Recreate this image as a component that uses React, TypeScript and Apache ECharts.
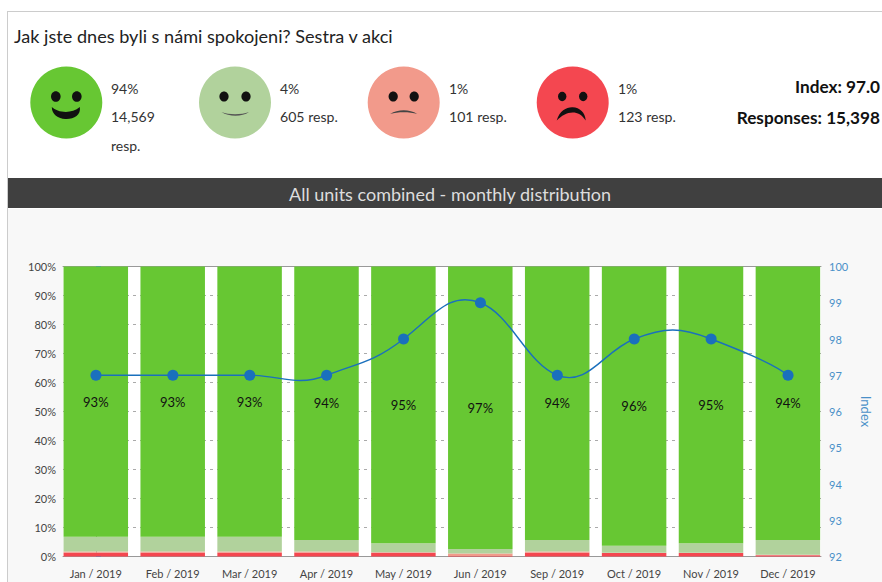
import React, { useEffect, useRef } from "react";
import * as echarts from "echarts";

const categories = ["Jan / 2019", "Feb / 2019", "Mar / 2019", "Apr / 2019", "May / 2019", "Jun / 2019", "Sep / 2019", "Oct / 2019", "Nov / 2019", "Dec / 2019"];
const veryBad = [1.3, 1.3, 1.3, 1.3, 1.3, 0.2, 1.3, 1.2, 1.2, 0.4];
const bad = [0.4, 0.4, 0.4, 0.4, 0.2, 0.8, 0.4, 0.1, 0.1, 0.2];
const good = [5.1, 5.1, 5.1, 4.0, 3.1, 1.6, 4.0, 2.4, 3.3, 5.1];
const veryGood = [93.2, 93.2, 93.2, 94.3, 95.4, 97.4, 94.3, 96.3, 95.4, 94.3];
const indexValues = [97, 97, 97, 97, 98, 99, 97, 98, 98, 97];

const FONT = "Lato";
const GREEN = "#67c733";
const LIGHT = "#b1d29c";
const PINK = "#f29a8b";
const RED = "#f44750";
const BLUE = "#1a70bd";
const AXIS_BLUE = "#4a90c8";
const TENSION_X = 0.2;
const TENSION_Y = 0.33;
const BAR_W = 64.5;

echarts.graphic.registerShape("mouthHappy", echarts.graphic.extendPath("M-14.5 4.5 C-9 10 5 12 13.5 4.5 C15 13 7 17 -1 16.5 C-8 16 -14.5 12 -14.5 4.5 Z", {}));
echarts.graphic.registerShape("mouthSmile", echarts.graphic.extendPath("M-13.5 9.5 C-6 12.5 6 12.5 14 9.5 C7 14.5 -6 14.5 -13.5 9.5 Z", {}));
echarts.graphic.registerShape("mouthFrown", echarts.graphic.extendPath("M-13.5 11.5 C-6 6.5 6 6.5 13.5 11.5 C6 9 -6 9 -13.5 11.5 Z", {}));
echarts.graphic.registerShape("mouthSad", echarts.graphic.extendPath("M-16 18 C-13 8 -6 4.5 0 4.8 C7 5 12.5 10 13 18 C9 12 5 10 0 10 C-6 10 -11 13 -16 18 Z", {}));

function face(cx: number, color: string, mouth: string, eyeDx: number, eyeR: number, mouthFill: string): any[] {
  const cy = 102.5;
  return [
    { type: "circle", shape: { cx, cy, r: 36 }, style: { fill: color } },
    { type: "ellipse", shape: { cx: cx - eyeDx, cy: cy - 6, rx: eyeR, ry: eyeR + 0.5 }, style: { fill: "#111" } },
    { type: "ellipse", shape: { cx: cx + eyeDx, cy: cy - 6, rx: eyeR, ry: eyeR + 0.5 }, style: { fill: "#111" } },
    { type: mouth, x: cx, y: cy, style: { fill: mouthFill } },
  ];
}

function txt(x: number, y: number, text: string, size: number, fill: string, extra: any = {}) {
  return { type: "text", x, y, style: { text, fontFamily: FONT, fontSize: size, fill, textVerticalAlign: "middle", ...extra } };
}

function renderIndexPoint(params: any, api: any) {
  const i = params.dataIndex;
  const n = indexValues.length;
  const pt = (k: number) => {
    const c = Math.max(0, Math.min(n - 1, k));
    return api.coord([c, indexValues[c]]);
  };
  const p1 = pt(i);
  const children: any[] = [];
  if (i < n - 1) {
    const p0 = pt(i - 1);
    const p2 = pt(i + 1);
    const p3 = pt(i + 2);
    children.push({
      type: "bezierCurve",
      shape: {
        x1: p1[0], y1: p1[1], x2: p2[0], y2: p2[1],
        cpx1: p1[0] + (p2[0] - p0[0]) * TENSION_X, cpy1: p1[1] + (p2[1] - p0[1]) * TENSION_Y,
        cpx2: p2[0] - (p3[0] - p1[0]) * TENSION_X, cpy2: p2[1] - (p3[1] - p1[1]) * TENSION_Y,
      },
      style: { stroke: BLUE, lineWidth: 1.4, fill: "none" },
      z2: 1,
    });
  }
  children.push({ type: "circle", shape: { cx: p1[0], cy: p1[1], r: 5.5 }, style: { fill: BLUE }, z2: 2 });
  return { type: "group", children };
}

export default function App() {
  const ref = useRef<HTMLDivElement>(null);
  useEffect(() => {
    const chart = echarts.init(ref.current!, null, { renderer: "svg" });
    const axisLabel = { fontFamily: FONT, fontSize: 11, color: "#444" };
    const lineGray = { lineStyle: { color: "#999", width: 1 } };
    const catTick = { alignWithLabel: true, length: 3, lineStyle: { color: "#888" } };
    const frameX = {
      type: "value", gridIndex: 1, min: -0.4285, max: 9.4285,
      axisLine: { show: true, ...lineGray }, axisTick: { show: false }, axisLabel: { show: false }, splitLine: { show: false },
    };
    const barSeries = { type: "bar", stack: "s", xAxisIndex: 0, yAxisIndex: 0, barWidth: BAR_W, z: 3 };
    chart.setOption({
      animation: false,
      backgroundColor: "#ffffff",
      graphic: {
        elements: [
          { type: "rect", z: -10, shape: { x: 8, y: 209, width: 874, height: 373 }, style: { fill: "#f8f8f8" } },
          { type: "rect", z: -9, shape: { x: 8, y: 178, width: 874, height: 30 }, style: { fill: "#404040" } },
          { type: "rect", z: -9, shape: { x: 7, y: 11, width: 875, height: 1 }, style: { fill: "#cccccc" } },
          { type: "rect", z: -9, shape: { x: 7, y: 11, width: 1, height: 571 }, style: { fill: "#cccccc" } },
          txt(14, 36, "Jak jste dnes byli s námi spokojeni? Sestra v akci", 18.1, "#222"),
          txt(450, 194, "All units combined - monthly distribution", 18, "#dddddd", { textAlign: "center" }),
          ...face(66.3, GREEN, "mouthHappy", 10.5, 4.8, "#111"),
          ...face(235, LIGHT, "mouthSmile", 11, 4.6, "#555"),
          ...face(403.7, PINK, "mouthFrown", 10.5, 4.6, "#444"),
          ...face(572.7, RED, "mouthSad", 10.5, 4.2, "#111"),
          txt(111, 88.5, "94%", 14, "#333"),
          txt(111, 116.5, "14,569", 14, "#333"),
          txt(111, 145.5, "resp.", 14, "#333"),
          txt(280, 88.5, "4%", 14, "#333"),
          txt(280, 116.5, "605 resp.", 14.1, "#333"),
          txt(449, 88.5, "1%", 14, "#333"),
          txt(449, 116.5, "101 resp.", 14.1, "#333"),
          txt(618, 88.5, "1%", 14, "#333"),
          txt(618, 116.5, "123 resp.", 14.1, "#333"),
          txt(880, 86.5, "Index: 97.0", 17.2, "#111", { textAlign: "right", fontWeight: "bold" }),
          txt(880, 117.5, "Responses: 15,398", 17.2, "#111", { textAlign: "right", fontWeight: "bold" }),
        ],
      },
      grid: [
        { left: 57.35, right: 55.65, top: 266.5, bottom: 25.5 },
        { left: 63, right: 61, top: 266.5, bottom: 25.5, show: true, backgroundColor: "#ffffff", borderWidth: 0 },
      ],
      xAxis: [
        {
          type: "category", gridIndex: 0, data: categories, position: "bottom",
          axisLine: { show: false }, axisTick: catTick,
          axisLabel: { ...axisLabel, interval: 0, margin: 11 },
        },
        {
          type: "category", gridIndex: 0, data: categories, position: "top",
          axisLine: { show: false }, axisTick: catTick, axisLabel: { show: false },
        },
        { ...frameX, position: "bottom" },
        { ...frameX, position: "top" },
      ],
      yAxis: [
        { type: "value", gridIndex: 0, min: 0, max: 100, show: false },
        {
          type: "value", gridIndex: 1, min: 0, max: 100, interval: 10,
          axisLine: { show: true, ...lineGray }, axisTick: { show: true, length: 4, lineStyle: { color: "#999" } },
          axisLabel: { ...axisLabel, formatter: "{value}%", margin: 7 },
          splitLine: { show: true, lineStyle: { color: "#aaa", type: [3, 4] } },
        },
        {
          type: "value", gridIndex: 1, min: 92, max: 100, interval: 1, position: "right",
          name: "Index", nameLocation: "middle", nameGap: 36, nameRotate: -90,
          nameTextStyle: { fontFamily: FONT, fontSize: 13, color: AXIS_BLUE },
          axisLine: { show: true, ...lineGray }, axisTick: { show: true, length: 5, lineStyle: { color: AXIS_BLUE } },
          axisLabel: { fontFamily: FONT, fontSize: 11, color: AXIS_BLUE, margin: 8 },
          splitLine: { show: false },
        },
      ],
      series: [
        { ...barSeries, data: veryBad, itemStyle: { color: RED } },
        { ...barSeries, data: bad, itemStyle: { color: PINK } },
        { ...barSeries, data: good, itemStyle: { color: LIGHT } },
        {
          ...barSeries, data: veryGood, itemStyle: { color: GREEN },
          label: {
            show: true, position: "inside", fontFamily: FONT, fontSize: 13, color: "#111",
            formatter: (p: any) => Math.round(p.value) + "%",
          },
        },
        {
          type: "custom", xAxisIndex: 2, yAxisIndex: 2, data: indexValues.map((v, i) => [i, v]), encode: { x: 0, y: 1 },
          renderItem: renderIndexPoint, z: 5, clip: false,
        },
      ],
    });
    return () => chart.dispose();
  }, []);
  return <div ref={ref} style={{ position: "fixed", left: 0, top: 0, width: 882, height: 582 }} />;
}
